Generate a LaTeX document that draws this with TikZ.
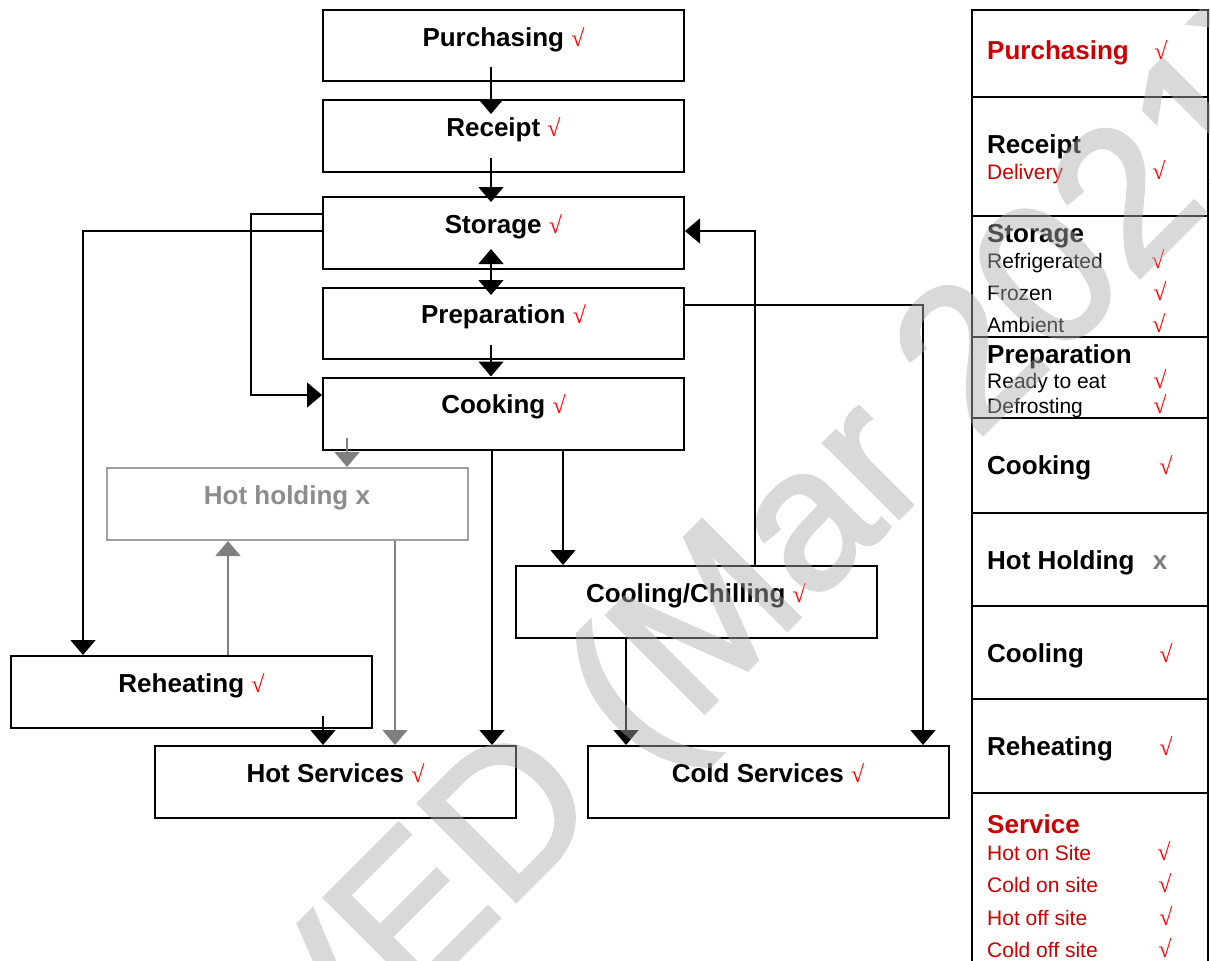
\documentclass[tikz,border=0pt]{standalone}
\usepackage{fontspec}
\setmainfont{Liberation Sans}
\newfontfamily\chkfont{Liberation Serif}
\newfontfamily\wmfont[FakeBold=2]{Liberation Sans}
\usetikzlibrary{arrows.meta,calc}
\definecolor{chkred}{HTML}{FF0000}
\definecolor{tabred}{HTML}{CC0000}
\definecolor{holdgray}{HTML}{8C8C8C}
\definecolor{boxgray}{HTML}{A0A0A0}
\definecolor{linegray}{HTML}{808080}
\definecolor{wmgray}{gray}{0.68}
\newcommand{\okmark}{{\chkfont\fontsize{24}{24}\selectfont\color{chkred}√}}
\tikzset{
  box/.style={draw=black, line width=2pt, minimum width=361pt, minimum height=72pt, inner sep=0pt},
  graybox/.style={box, draw=boxgray},
  lbl/.style={anchor=base, inner sep=0pt, font=\fontsize{26}{30}\selectfont\bfseries},
  conn/.style={line width=1.5pt, -{Triangle[length=15pt,width=25pt]}},
  gconn/.style={conn, draw=linegray},
  dconn/.style={line width=1.5pt, {Triangle[length=15pt,width=25pt]}-{Triangle[length=15pt,width=25pt]}},
  tline/.style={line width=2pt, line cap=rect},
  thead/.style={anchor=base west, inner sep=0pt, font=\fontsize{26}{30}\selectfont\bfseries},
  titem/.style={anchor=base west, inner sep=0pt, font=\fontsize{21}{25}\selectfont},
  tchk/.style={anchor=base, inner sep=0pt},
  wm/.style={anchor=base east, inner sep=0pt, rotate=45, text=wmgray,
             font=\wmfont\fontsize{200}{200}\selectfont}
}
\begin{document}
\begin{tikzpicture}[x=1pt,y=-1pt]
\useasboundingbox (0,0) rectangle (1210,961);
\clip (0,0) rectangle (1210,961);
% ---------- flowchart boxes ----------
\node[box] (pur) at (503.5,45.5) [minimum height=71pt] {};
\node[box] (rec) at (503.5,136) {};
\node[box] (sto) at (503.5,233) {};
\node[box] (pre) at (503.5,323.5) [minimum height=71pt] {};
\node[box] (coo) at (503.5,413.5) {};
\node[graybox] (hho) at (287,504) {};
\node[box] (cch) at (696,602) {};
\node[box] (reh) at (191.5,692) {};
\node[box] (hse) at (335.5,782) {};
\node[box] (cse) at (768,782) {};
% ---------- labels ----------
\node[lbl] (purt) at (503.5,46) {Purchasing \okmark};
\node[lbl] (rect) at (503.5,136) {Receipt \okmark};
\node[lbl] (stot) at (503.5,233) {Storage \okmark};
\node[lbl] (pret) at (503.5,323.5) {Preparation \okmark};
\node[lbl] (coot) at (503.5,413.5) {Cooking \okmark};
\node[lbl, text=holdgray] (hhot) at (287,504) {Hot holding x};
\node[lbl] (ccht) at (696,602) {Cooling/Chilling \okmark};
\node[lbl] (reht) at (191.5,692) {Reheating \okmark};
\node[lbl] (hset) at (335.5,782) {Hot Services \okmark};
\node[lbl] (cset) at (768,782) {Cold Services \okmark};
% ---------- columns ----------
\coordinate (spine) at (491,0);
\coordinate (cA) at (251,214);
\coordinate (cB) at (83,231);
\coordinate (cC) at (755,231);
\coordinate (cD) at (923,305);
% ---------- connectors ----------
\draw[conn] ($(pur.south -| spine)+(0,-15)$) -- ($(rec.north -| spine)+(0,15)$);
\draw[conn] ($(rec.south -| spine)+(0,-15)$) -- ($(sto.north -| spine)+(0,6)$);
\draw[dconn] ($(sto.south -| spine)+(0,-21)$) -- ($(pre.north -| spine)+(0,8)$);
\draw[conn] ($(pre.south -| spine)+(0,-15)$) -- (coo.north -| spine);
\draw[conn] (sto.west |- cA) -- (cA) |- (coo.west |- 0,395);
\draw[conn] (sto.west |- cB) -- (cB) -- (reh.north -| cB);
\draw[gconn] ($(coo.south -| 347,0)+(0,-13)$) -- (hho.north -| 347,0);
\draw[conn] (coo.south -| 492,0) -- (hse.north -| 492,0);
\draw[conn] (coo.south -| 563,0) -- (cch.north -| 563,0);
\draw[gconn] (hho.south -| 395,0) -- (hse.north -| 395,0);
\draw[gconn] (reh.north -| 228,0) -- (hho.south -| 228,0);
\draw[conn] ($(reh.south -| 323,0)+(0,-13)$) -- (hse.north -| 323,0);
\draw[conn] (cch.south -| 626,0) -- (cse.north -| 626,0);
\draw[conn] (cch.north -| cC) -- (cC) -- (sto.east |- cC);
\draw[conn] (pre.east |- cD) -- (cD) -- (cse.north -| cD);
% ---------- right table ----------
\draw[tline] (972,10) -- (1208,10);
\draw[tline] (972,10) -- (972,961);
\draw[tline] (1208,10) -- (1208,961);
\foreach \yy in {97,216,337,418,513,606,699,793}
  \draw[tline] (972,\yy) -- (1208,\yy);
\node[thead, text=tabred] (t1) at (987,59) {Purchasing};
\node[tchk] (k1) at (1161,59) {\okmark};
\node[thead] (t2) at (987,153) {Receipt};
\node[titem, text=tabred] (t2a) at (987,179) {Delivery};
\node[tchk] (k2) at (1159,179) {\okmark};
\node[thead] (t3) at (987,242) {Storage};
\node[titem] (t3a) at (987,268) {Refrigerated};
\node[titem] (t3b) at (987,300) {Frozen};
\node[titem] (t3c) at (987,332) {Ambient};
\node[tchk] (k3a) at (1158,268) {\okmark};
\node[tchk] (k3b) at (1160,300) {\okmark};
\node[tchk] (k3c) at (1159,332) {\okmark};
\node[thead] (t4) at (987,363) {Preparation};
\node[titem] (t4a) at (987,388) {Ready to eat};
\node[titem] (t4b) at (987,413) {Defrosting};
\node[tchk] (k4a) at (1160,388) {\okmark};
\node[tchk] (k4b) at (1160,413) {\okmark};
\node[thead] (t5) at (987,474) {Cooking};
\node[tchk] (k5) at (1166,474) {\okmark};
\node[thead] (t6) at (987,569) {Hot Holding};
\node[tchk, font=\fontsize{26}{30}\selectfont\bfseries, text=linegray] (k6) at (1160,569) {x};
\node[thead] (t7) at (987,662) {Cooling};
\node[tchk] (k7) at (1166,662) {\okmark};
\node[thead] (t8) at (987,755) {Reheating};
\node[tchk] (k8) at (1166,755) {\okmark};
\node[thead, text=tabred] (t9) at (987,833) {Service};
\node[titem, text=tabred] (t9a) at (987,860) {Hot on Site};
\node[titem, text=tabred] (t9b) at (987,892) {Cold on site};
\node[titem, text=tabred] (t9c) at (987,925) {Hot off site};
\node[titem, text=tabred] (t9d) at (987,957) {Cold off site};
\node[tchk] (k9a) at (1164,860) {\okmark};
\node[tchk] (k9b) at (1165,892) {\okmark};
\node[tchk] (k9c) at (1166,925) {\okmark};
\node[tchk] (k9d) at (1165,957) {\okmark};
% ---------- watermark ----------
\begin{scope}[transparency group, opacity=0.46]
\node[wm] (wmark) at (505,912) {ARCHIVE\rlap{D (Mar 2021)}};
\end{scope}
\end{tikzpicture}
\end{document}
